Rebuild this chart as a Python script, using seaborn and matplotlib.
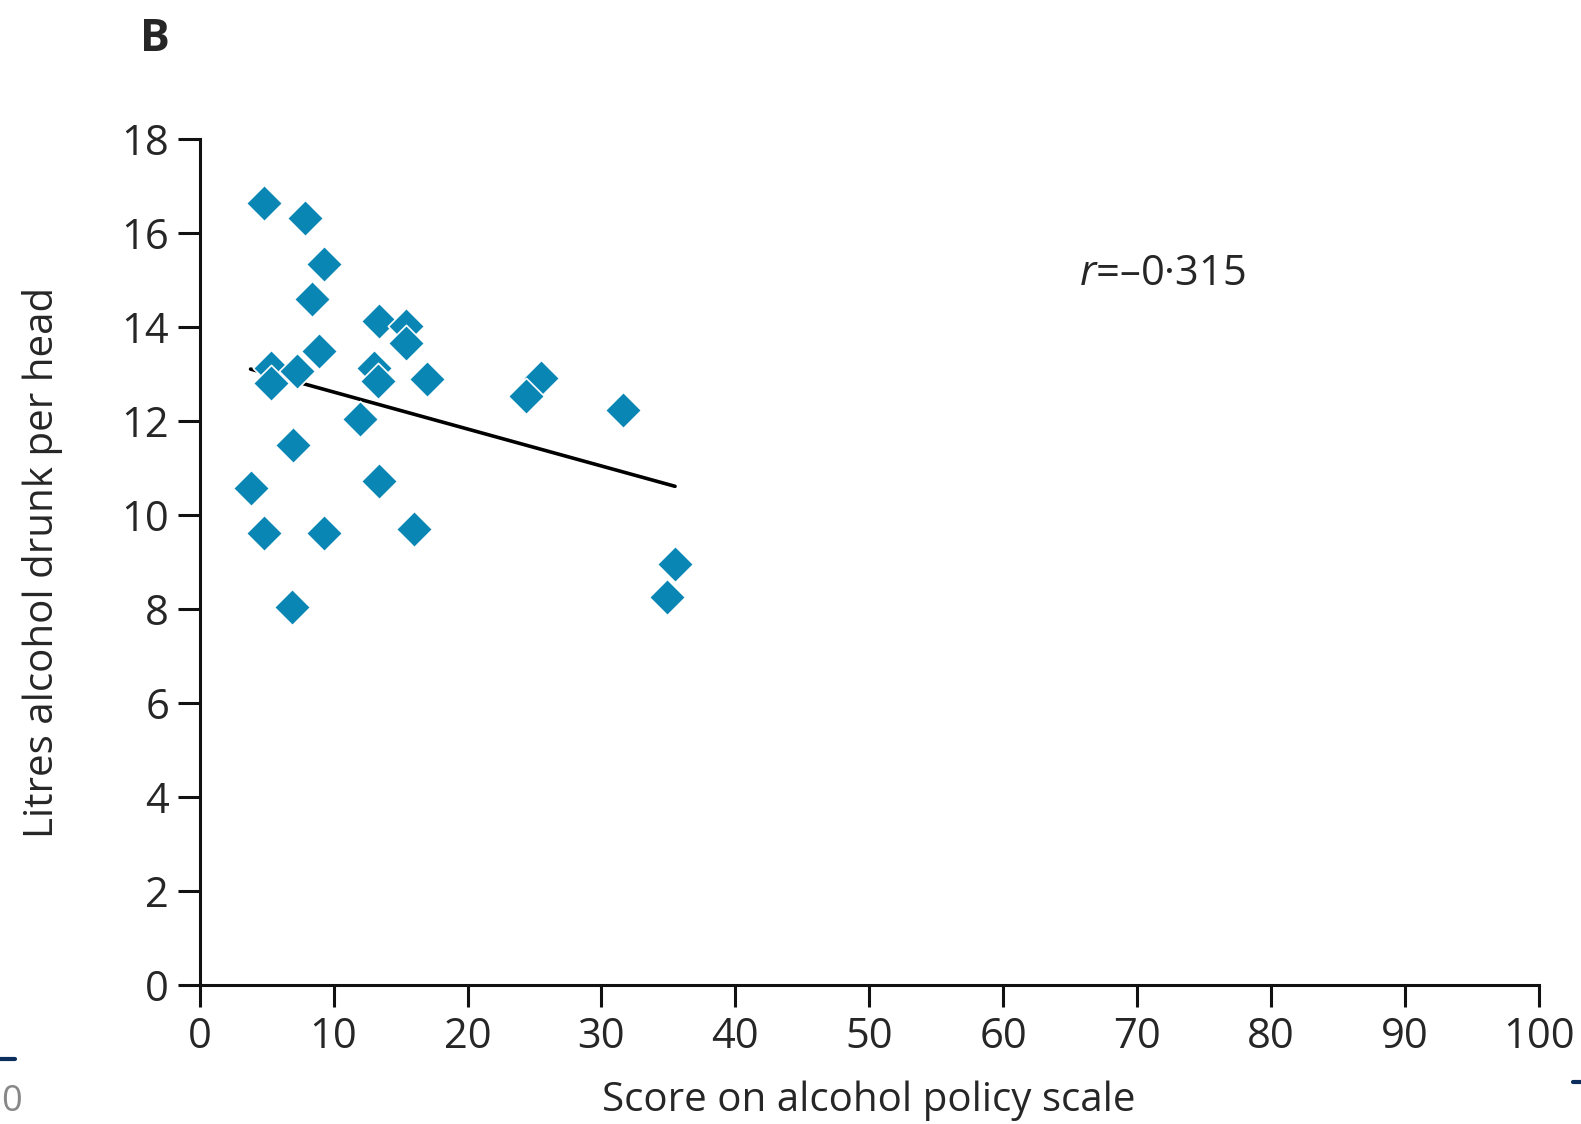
import matplotlib
matplotlib.use("Agg")
import matplotlib.pyplot as plt
import seaborn as sns
import pandas as pd

policy_score = [4.8, 7.9, 9.3, 8.4, 13.4, 15.4, 15.4, 8.9, 5.3, 5.3, 7.3, 13.0, 13.3, 17.0,
                25.5, 24.4, 31.6, 12.0, 7.0, 3.8, 13.4, 4.8, 9.3, 16.0, 35.5, 34.9, 6.9]
litres = [16.65, 16.33, 15.34, 14.59, 14.14, 14.03, 13.67, 13.5, 13.13, 12.81, 13.07, 13.13, 12.85, 12.9,
          12.92, 12.53, 12.23, 12.04, 11.5, 10.58, 10.73, 9.61, 9.61, 9.7, 8.97, 8.26, 8.05]
x_ticks = [0, 10, 20, 30, 40, 50, 60, 70, 80, 90, 100]
y_ticks = [0, 2, 4, 6, 8, 10, 12, 14, 16, 18]

df = pd.DataFrame({"score": policy_score, "litres": litres})

sns.set_style("ticks")
plt.rcParams['font.family'] = ['Open Sans', 'DejaVu Sans']
plt.rcParams['mathtext.fontset'] = 'custom'
plt.rcParams['mathtext.it'] = 'Open Sans:italic'
plt.rcParams['mathtext.rm'] = 'Open Sans'

fig = plt.figure(figsize=(15.81, 11.24), dpi=100)
ax = fig.add_axes([0.1263, 0.1236, 0.8470, 0.7526])

sns.regplot(data=df, x="score", y="litres", ax=ax, ci=None, marker="D",
            scatter_kws=dict(s=340, color="#0a86b4", edgecolor="white", linewidths=1.2, alpha=1, zorder=3),
            line_kws=dict(color="black", lw=2.6, zorder=2))

ax.set_xlim(0, 100)
ax.set_ylim(0, 18)
ax.set_xticks(x_ticks)
ax.set_yticks(y_ticks)
ax.tick_params(axis="both", direction="out", length=16, width=2.2, labelsize=30, color="#111111")
ax.tick_params(axis="x", pad=6)
ax.tick_params(axis="y", pad=6)
for s in ["top", "right"]:
    ax.spines[s].set_visible(False)
for s in ["left", "bottom"]:
    ax.spines[s].set_linewidth(2.2)
    ax.spines[s].set_color("#111111")
ax.set_xlabel("Score on alcohol policy scale", fontsize=29)
ax.set_ylabel("Litres alcohol drunk per head", fontsize=29)
ax.yaxis.set_label_coords(-0.102, 0.5)
ax.xaxis.set_label_coords(0.5, -0.113)

ax.text(65.7, 15.13, "$r$=\u20130\u00b7315", fontsize=30, ha="left", va="center")

fig.text(0.098, 0.965, "B", fontsize=32, fontweight="bold", ha="center", va="center")

# page crop artifacts
fig.add_artist(plt.Line2D([0.0, 0.0095], [0.058, 0.058], color="#0b2e5c", lw=3, transform=fig.transFigure))
fig.add_artist(plt.Line2D([0.995, 1.0], [0.0374, 0.0374], color="#0b2e5c", lw=3, transform=fig.transFigure))
fig.text(0.001, 0.004, "0", fontsize=26, color="#888888", ha="left", va="bottom")

fig.savefig("out.png", dpi=100, facecolor="white")
